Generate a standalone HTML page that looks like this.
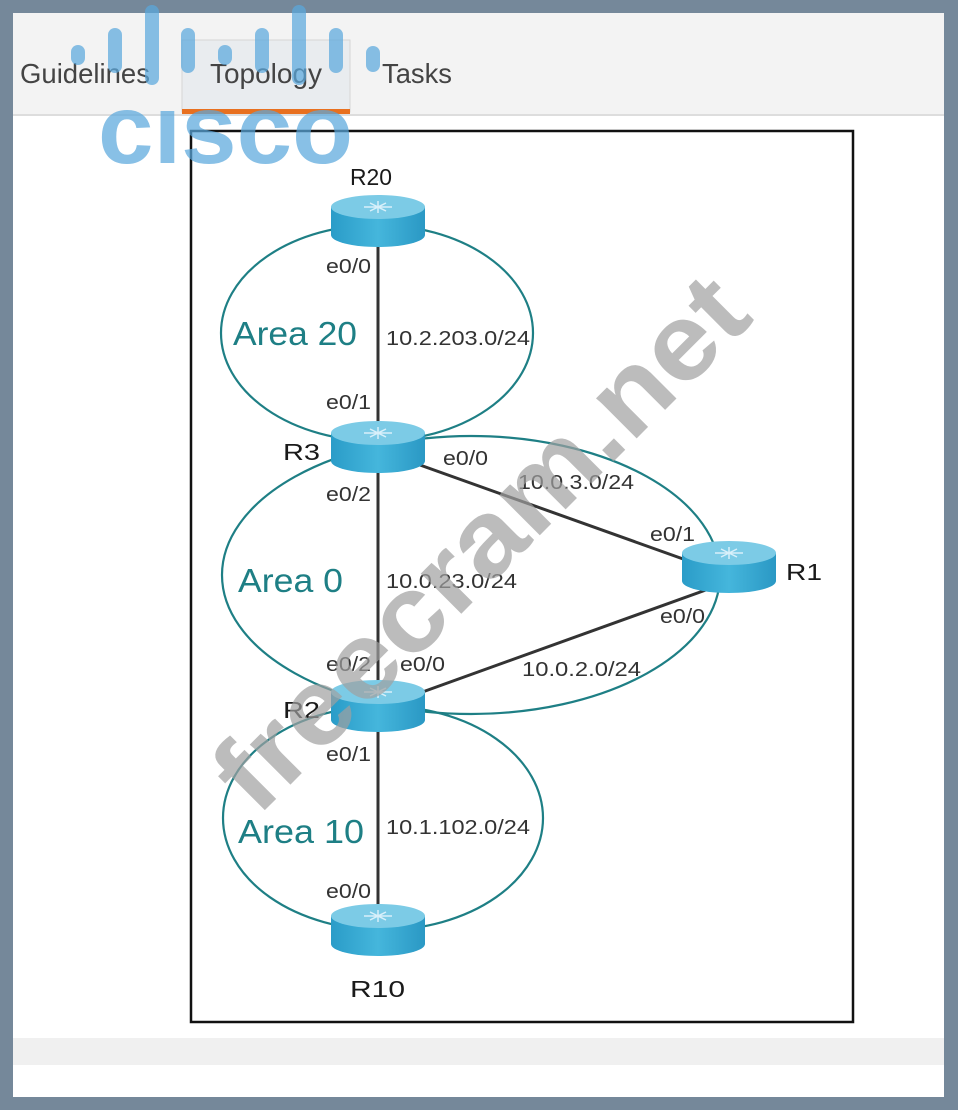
<!DOCTYPE html>
<html><head><meta charset="utf-8"><style>
html,body{margin:0;padding:0}
body{width:958px;height:1110px;background:#75889a;position:relative;overflow:hidden;font-family:"Liberation Sans",sans-serif}
</style></head><body>
<svg width="958" height="1110" style="position:absolute;left:0;top:0" font-family="Liberation Sans, sans-serif">
<defs>
<linearGradient id="rb" x1="0" x2="1" y1="0" y2="0">
<stop offset="0" stop-color="#2a9cc8"/><stop offset="0.5" stop-color="#45b6dc"/><stop offset="1" stop-color="#2a98c4"/>
</linearGradient>
<g id="router">
<path d="M-47,0 L-47,28 A47,12 0 0 0 47,28 L47,0 Z" fill="url(#rb)"/>
<ellipse cx="0" cy="0" rx="47" ry="12" fill="#7ccbe6"/>
<path d="M-14,0 h28 M0,-6 v12 M-8,-4 l16,8 M8,-4 l-16,8" stroke="#d8f0fa" stroke-width="1.5"/>
</g>
</defs>
<rect x="13" y="13" width="931" height="1084" fill="#fff"/>
<rect x="13" y="13" width="931" height="102" fill="#f3f3f3"/>
<line x1="13" y1="115" x2="944" y2="115" stroke="#ddd" stroke-width="2"/>
<rect x="182" y="40" width="168" height="72" fill="#e9ecef" stroke="#d6d6d6"/>
<rect x="182" y="109" width="168" height="5" fill="#e8701f"/>
<g font-size="28" fill="#444">
<text x="20" y="83" textLength="130" lengthAdjust="spacingAndGlyphs">Guidelines</text>
<text x="210" y="83" textLength="112" lengthAdjust="spacingAndGlyphs">Topology</text>
<text x="382" y="83" textLength="70" lengthAdjust="spacingAndGlyphs">Tasks</text>
</g>
<rect x="13" y="1038" width="931" height="27" fill="#f0f0f0"/>
<rect x="191" y="131" width="662" height="891" fill="#fff" stroke="#111" stroke-width="2.5"/>
<g fill="none" stroke="#1e7f85" stroke-width="2.2">
<ellipse cx="377" cy="333" rx="156" ry="108"/>
<ellipse cx="471" cy="575" rx="249" ry="139"/>
<ellipse cx="383" cy="818" rx="160" ry="112"/>
</g>
<g stroke="#333" stroke-width="3">
<line x1="378" y1="222" x2="378" y2="928"/>
<line x1="378" y1="450" x2="728" y2="575"/>
<line x1="378" y1="708" x2="728" y2="582"/>
</g>
<use href="#router" x="378" y="207"/>
<use href="#router" x="378" y="433"/>
<use href="#router" x="378" y="692"/>
<use href="#router" x="378" y="916"/>
<use href="#router" x="729" y="553"/>
<g font-size="23" fill="#1a1a1a">
<text x="350" y="185" textLength="42" lengthAdjust="spacingAndGlyphs">R20</text>
<text x="283" y="460" textLength="37" lengthAdjust="spacingAndGlyphs">R3</text>
<text x="283" y="718" textLength="37" lengthAdjust="spacingAndGlyphs">R2</text>
<text x="350" y="997" textLength="55" lengthAdjust="spacingAndGlyphs">R10</text>
<text x="786" y="580" textLength="36" lengthAdjust="spacingAndGlyphs">R1</text>
</g>
<g font-size="20" fill="#333">
<text x="326" y="273" textLength="45" lengthAdjust="spacingAndGlyphs">e0/0</text>
<text x="386" y="345" textLength="144" lengthAdjust="spacingAndGlyphs">10.2.203.0/24</text>
<text x="326" y="409" textLength="45" lengthAdjust="spacingAndGlyphs">e0/1</text>
<text x="443" y="465" textLength="45" lengthAdjust="spacingAndGlyphs">e0/0</text>
<text x="326" y="501" textLength="45" lengthAdjust="spacingAndGlyphs">e0/2</text>
<text x="518" y="489" textLength="116" lengthAdjust="spacingAndGlyphs">10.0.3.0/24</text>
<text x="650" y="541" textLength="45" lengthAdjust="spacingAndGlyphs">e0/1</text>
<text x="386" y="588" textLength="131" lengthAdjust="spacingAndGlyphs">10.0.23.0/24</text>
<text x="660" y="623" textLength="45" lengthAdjust="spacingAndGlyphs">e0/0</text>
<text x="326" y="671" textLength="45" lengthAdjust="spacingAndGlyphs">e0/2</text>
<text x="400" y="671" textLength="45" lengthAdjust="spacingAndGlyphs">e0/0</text>
<text x="522" y="676" textLength="119" lengthAdjust="spacingAndGlyphs">10.0.2.0/24</text>
<text x="326" y="761" textLength="45" lengthAdjust="spacingAndGlyphs">e0/1</text>
<text x="386" y="834" textLength="144" lengthAdjust="spacingAndGlyphs">10.1.102.0/24</text>
<text x="326" y="898" textLength="45" lengthAdjust="spacingAndGlyphs">e0/0</text>
</g>
<g font-size="33" fill="#1e7f85">
<text x="233" y="345" textLength="124" lengthAdjust="spacingAndGlyphs">Area 20</text>
<text x="238" y="592" textLength="105" lengthAdjust="spacingAndGlyphs">Area 0</text>
<text x="238" y="843" textLength="126" lengthAdjust="spacingAndGlyphs">Area 10</text>
</g>
<text x="0" y="0" font-size="108" font-weight="bold" fill="#a0a0a0" fill-opacity="0.7" transform="translate(257,818) rotate(-45)" textLength="705" lengthAdjust="spacingAndGlyphs">freecram.net</text>
<g fill="#5aa7dc" fill-opacity="0.72">
<rect x="71" y="45" width="14" height="20" rx="7"/>
<rect x="108" y="28" width="14" height="45" rx="7"/>
<rect x="145" y="5" width="14" height="80" rx="7"/>
<rect x="181" y="28" width="14" height="45" rx="7"/>
<rect x="218" y="45" width="14" height="20" rx="7"/>
<rect x="255" y="28" width="14" height="45" rx="7"/>
<rect x="292" y="5" width="14" height="80" rx="7"/>
<rect x="329" y="28" width="14" height="45" rx="7"/>
<rect x="366" y="46" width="14" height="26" rx="7"/>
</g>
<text x="98" y="163" font-size="98" font-weight="bold" fill="#5aa7dc" fill-opacity="0.72" textLength="255" lengthAdjust="spacingAndGlyphs">cısco</text>
</svg>
</body></html>
